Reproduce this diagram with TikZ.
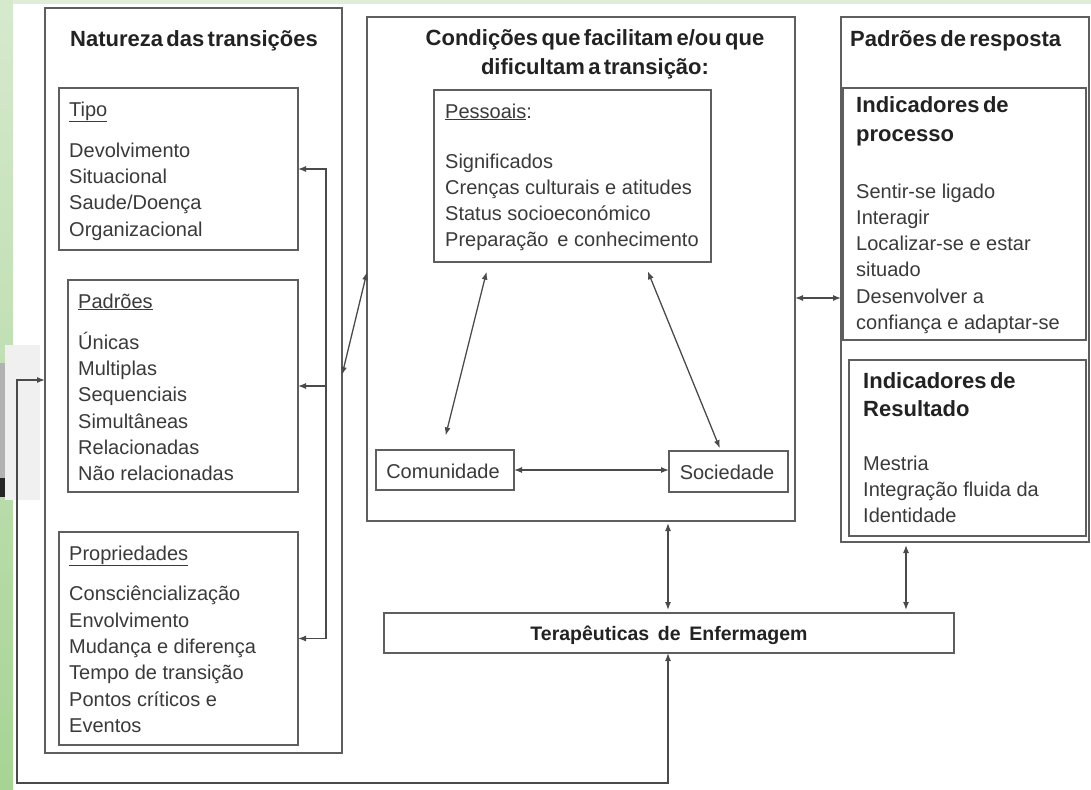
\documentclass[tikz,border=0pt]{standalone}
\usepackage{fontspec}
\setmainfont{Liberation Sans}
\newfontfamily\titlefont[WordSpace=0.55]{Liberation Sans}
\usetikzlibrary{arrows.meta}
\definecolor{boxline}{HTML}{5E5E5E}
\definecolor{connline}{HTML}{4A4A4A}
\definecolor{bodytext}{HTML}{3A3A3A}
\definecolor{titletext}{HTML}{222222}
\definecolor{greentop}{HTML}{D6E9CD}
\definecolor{greenbot}{HTML}{A7D495}
\definecolor{greenstrip}{HTML}{E0EED9}
\tikzset{
  box/.style={draw=boxline, line width=1.8pt, fill=white, anchor=north west, inner sep=0pt, outer sep=0pt},
  body/.style={font=\fontsize{20}{26.3}\selectfont, text=bodytext, align=left, inner sep=0pt, anchor=base west},
  ttl/.style={font=\titlefont\bfseries\fontsize{22}{28.5}\selectfont, text=titletext, align=left, inner sep=0pt, anchor=base west},
  conn/.style={draw=connline, line width=1.3pt, arrows={Latex[length=8pt,width=6pt]-Latex[length=8pt,width=6pt]}},
  connR/.style={draw=connline, line width=1.3pt, arrows={-Latex[length=8pt,width=6pt]}}
}
\begin{document}
\begin{tikzpicture}[x=1pt,y=-1pt]
\useasboundingbox (0,0) rectangle (1091,789);
% background
\fill[white] (0,0) rectangle (1091,789);
\shade[top color=greentop, bottom color=greenbot] (0,0) rectangle (13,789);
\fill[greenstrip] (13,0) rectangle (1091,4);
\fill[gray!12] (5,345) rectangle (40,500);
\fill[gray!60] (0,363) rectangle (5,478);
\fill[black!85] (0,478) rectangle (5,497);

% Natureza das transicoes (multi-line nodes: base = last baseline)
\node[box, minimum width=297pt, minimum height=745pt] (nat) at (45,8) {};
\node[ttl] (natT) at (70,47) {Natureza das transições};
\node[box, minimum width=239pt, minimum height=162pt] (tipo) at (59,88) {};
\node[body] (tipoT) at (69,236.2) {\underline{Tipo}\\[15pt]Devolvimento\\Situacional\\Saude/Doença\\Organizacional};
\node[box, minimum width=230pt, minimum height=212pt] (padr) at (68,280) {};
\node[body] (padrT) at (78,480.8) {\underline{Padrões}\\[15pt]Únicas\\Multiplas\\Sequenciais\\Simultâneas\\Relacionadas\\Não relacionadas};
\node[box, minimum width=239pt, minimum height=213pt] (prop) at (59,532) {};
\node[body] (propT) at (69,732.3) {\underline{Propriedades}\\[14.5pt]Consciêncialização\\Envolvimento\\Mudança e diferença\\Tempo de transição\\Pontos críticos e\\Eventos};

% Condicoes
\node[box, minimum width=428pt, minimum height=504pt] (cond) at (367,17) {};
\node[ttl, align=center, anchor=base] (condT) at (595,74.5) {Condições que facilitam e/ou que\\dificultam a transição:};
\node[box, minimum width=277pt, minimum height=172pt] (pess) at (434,90) {};
\node[body] (pessT) at (445,246.9) {\underline{Pessoais}:\\[23.7pt]Significados\\Crenças culturais e atitudes\\Status socioeconómico\\Preparação\, e conhecimento};
\node[box, minimum width=138pt, minimum height=40pt] (com) at (376,450) {};
\node[body, anchor=base] (comT) at (443,478) {Comunidade};
\node[box, minimum width=119pt, minimum height=41pt] (soc) at (669,451) {};
\node[body, anchor=base] (socT) at (727,479) {Sociedade};

% Terapeuticas
\node[box, minimum width=570pt, minimum height=40pt] (terap) at (384,613) {};
\node[font=\bfseries\fontsize{19.5}{24}\selectfont, text=titletext, inner sep=0pt, anchor=base] (terapT) at (669,640) {Terapêuticas\, de\, Enfermagem};

% Padroes de resposta
\node[box, minimum width=248pt, minimum height=525pt] (resp) at (841,17) {};
\node[ttl] (respT) at (850,47) {Padrões de resposta};
\node[box, minimum width=243pt, minimum height=252pt] (proc) at (843,88) {};
\node[ttl] (procT) at (856,141.5) {Indicadores de\\processo};
\node[body] (procB) at (856,329.5) {Sentir-se ligado\\Interagir\\Localizar-se e estar\\situado\\Desenvolver a\\confiança e adaptar-se};
\node[box, minimum width=237pt, minimum height=176pt] (res) at (849,360) {};
\node[ttl] (resT) at (863,416.5) {Indicadores de\\Resultado};
\node[body] (resB) at (863,522.6) {Mestria\\Integração fluida da\\Identidade};

% connectors
\coordinate (lp1) at (668,783);
\coordinate (lp2) at (17,783);
\coordinate (lp3) at (17,380);
\draw[conn] (terap.south -| lp1) -- (lp1) -- (lp2) -- (lp3) -- (nat.west |- lp3);

\coordinate (br) at (326,170);
\draw[conn] (tipo.east) -- (tipo.east -| br) -- (prop.east -| br) -- (prop.east);
\draw[connR] (padr.east -| br) -- (padr.east);

\coordinate (nd1) at (0,375);
\coordinate (nd2) at (0,272);
\draw[conn] (nat.east |- nd1) -- (cond.west |- nd2);

\coordinate (pc1) at (489,0);
\coordinate (pc2) at (442,0);
\draw[conn, shorten <=10pt, shorten >=15pt] (pess.south -| pc1) -- (com.north -| pc2);
\coordinate (ps1) at (644,0);
\coordinate (ps2) at (721,0);
\draw[conn, shorten <=10pt, shorten >=3pt] (pess.south -| ps1) -- (soc.north -| ps2);

\draw[conn] (com.east) -- (soc.west |- com.east);

\draw[conn, shorten <=2pt, shorten >=3pt] (cond.south -| lp1) -- (terap.north -| lp1);

\coordinate (pr) at (0,298);
\draw[conn] (cond.east |- pr) -- (resp.west |- pr);

\coordinate (tr) at (906,0);
\draw[conn, shorten <=3pt, shorten >=3pt] (resp.south -| tr) -- (terap.north -| tr);
\end{tikzpicture}
\end{document}
